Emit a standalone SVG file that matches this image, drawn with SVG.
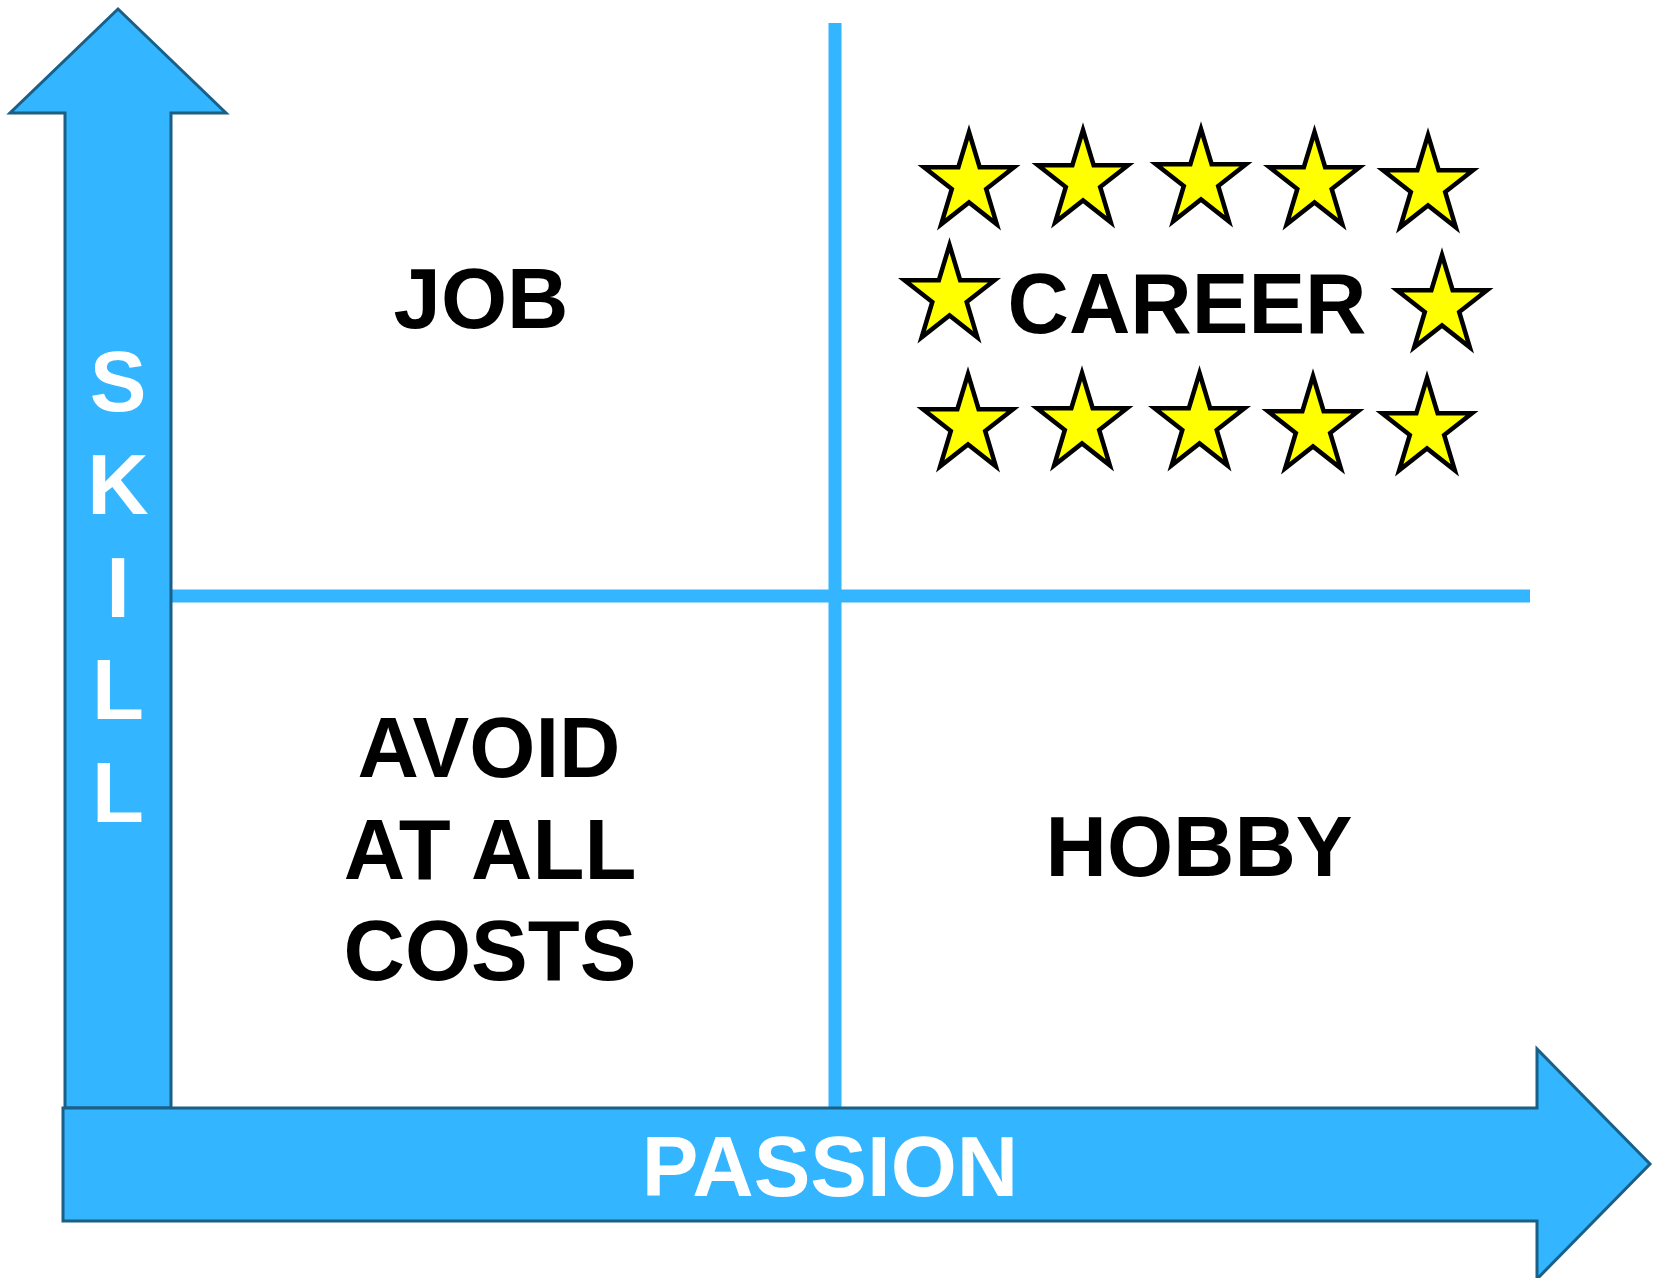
<svg xmlns="http://www.w3.org/2000/svg" width="1656" height="1278" viewBox="0 0 1656 1278">
<defs>
<style>
.arrow{fill:#33b5ff;stroke:#1a5f86;stroke-width:3;stroke-linejoin:miter}
.div{stroke:#33b5ff;stroke-width:13;fill:none}
.lbl{font-family:"Liberation Sans",Arial,sans-serif;font-weight:bold;font-size:85px;fill:#000;text-anchor:middle}
.axis{font-family:"Liberation Sans",Arial,sans-serif;font-weight:bold;font-size:85px;fill:#fff;text-anchor:middle}
.star{fill:#ffff00;stroke:#000;stroke-width:4.5;stroke-linejoin:miter}
</style>
<path id="st" d="M0,-51 L10.63,-15.75 L45.0,-15.75 L17.19,6.01 L27.81,41.23 L0,19.47 L-27.81,41.23 L-17.19,6.01 L-45.0,-15.75 L-10.63,-15.75 Z"/>
</defs>
<rect width="1656" height="1278" fill="#fff"/>
<g id="connectors">
<path class="div" d="M835,23 V1108"/>
<path class="div" d="M171,596 H1530"/>
</g>
<g id="skill-axis">
<polygon class="arrow" points="118,9 226,113 171,113 171,1108 65,1108 65,113 10,113"/>
<text class="axis" x="118" y="411">S</text>
<text class="axis" x="118" y="514">K</text>
<text class="axis" x="118" y="617">I</text>
<text class="axis" x="118" y="719">L</text>
<text class="axis" x="118" y="822">L</text>
</g>
<g id="passion-axis">
<polygon class="arrow" points="63,1108 1537,1108 1537,1049 1650,1164 1537,1279 1537,1221 63,1221"/>
<text class="axis" x="830" y="1196">PASSION</text>
</g>
<g id="job">
<text class="lbl" x="481" y="328">JOB</text>
</g>
<g id="career">
<g class="star">
<use href="#st" x="969" y="183"/>
<use href="#st" x="1083" y="181"/>
<use href="#st" x="1201" y="180"/>
<use href="#st" x="1314.5" y="183"/>
<use href="#st" x="1428" y="186"/>
<use href="#st" x="949.5" y="296"/>
<use href="#st" x="1442" y="306"/>
<use href="#st" x="968" y="425"/>
<use href="#st" x="1082" y="424"/>
<use href="#st" x="1199.5" y="424"/>
<use href="#st" x="1313" y="427"/>
<use href="#st" x="1427" y="429"/>
</g>
<text class="lbl" x="1187" y="333">CAREER</text>
</g>
<g id="avoid">
<text class="lbl" x="489" y="777">AVOID</text>
<text class="lbl" x="490" y="879">AT ALL</text>
<text class="lbl" x="490" y="980">COSTS</text>
</g>
<g id="hobby">
<text class="lbl" x="1199" y="876">HOBBY</text>
</g>
</svg>
